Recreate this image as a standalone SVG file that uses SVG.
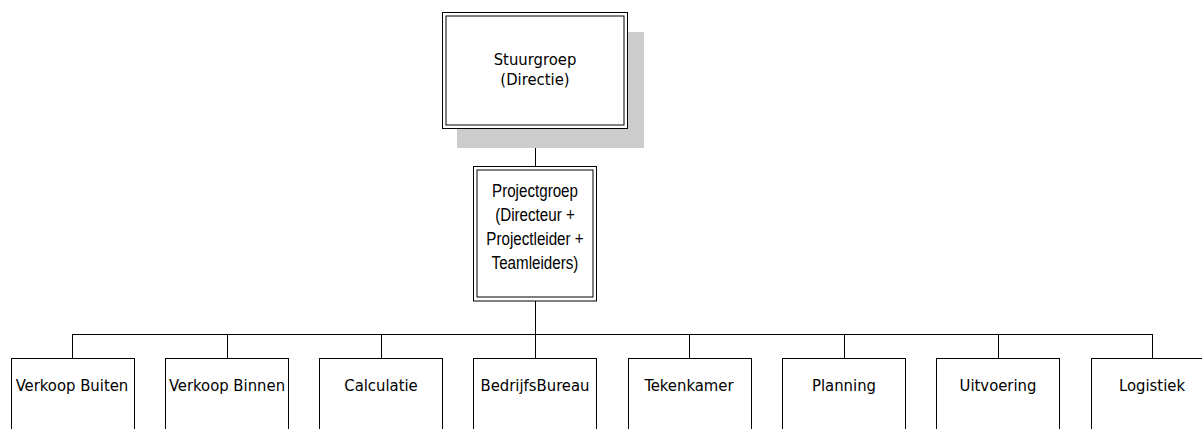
<svg xmlns="http://www.w3.org/2000/svg" width="1202" height="429" viewBox="0 0 1202 429">
<style>
.box{fill:#fff;stroke:#000;stroke-width:1}
.tx{font-family:"DejaVu Sans Condensed","DejaVu Sans",sans-serif;font-size:16.5px;fill:#000;text-anchor:middle}
.tn{font-family:"Liberation Sans",Arial,sans-serif;font-size:18.5px;fill:#000;text-anchor:middle}
.ln{fill:none;stroke:#000;stroke-width:1}
</style>
<rect width="1202" height="429" fill="#fff"/>
<g id="connectors">
<path class="ln" d="M535.5 128 V166"/>
<path class="ln" d="M535.5 301 V334" stroke-width="2.5"/>
<path class="ln" d="M72.5 334.5 H1152.5" stroke-width="1.3"/>
<path class="ln" d="M72.5 334 V358 M227.5 334 V358 M381.5 334 V358 M535.5 334 V358 M689.5 334 V358 M844.5 334 V358 M998.5 334 V358 M1152.5 334 V358"/>
</g>
<g id="stuurgroep">
<rect x="457" y="32" width="187" height="116" fill="#cccccc"/>
<rect class="box" x="442.5" y="12.5" width="185" height="116"/>
<rect class="box" x="446" y="16" width="178" height="109"/>
<text class="tx" x="535" y="65">Stuurgroep</text>
<text class="tx" x="535" y="85">(Directie)</text>
</g>
<g id="projectgroep">
<rect class="box" x="473.5" y="166.5" width="123" height="134.5"/>
<rect class="box" x="477" y="170" width="116" height="127"/>
<g transform="translate(535 0) scale(0.82 1)">
<text class="tn" x="0" y="197">Projectgroep</text>
<text class="tn" x="0" y="221">(Directeur +</text>
<text class="tn" x="0" y="245">Projectleider +</text>
<text class="tn" x="0" y="269">Teamleiders)</text>
</g>
</g>
<g id="verkoop-buiten"><rect class="box" x="11.5" y="358.5" width="123" height="90"/><text class="tx" x="72" y="391">Verkoop Buiten</text></g>
<g id="verkoop-binnen"><rect class="box" x="165.5" y="358.5" width="123" height="90"/><text class="tx" x="227" y="391">Verkoop Binnen</text></g>
<g id="calculatie"><rect class="box" x="319.5" y="358.5" width="123" height="90"/><text class="tx" x="381" y="391">Calculatie</text></g>
<g id="bedrijfsbureau"><rect class="box" x="473.5" y="358.5" width="123" height="90"/><text class="tx" x="535" y="391">BedrijfsBureau</text></g>
<g id="tekenkamer"><rect class="box" x="628.5" y="358.5" width="123" height="90"/><text class="tx" x="689" y="391">Tekenkamer</text></g>
<g id="planning"><rect class="box" x="782.5" y="358.5" width="123" height="90"/><text class="tx" x="844" y="391">Planning</text></g>
<g id="uitvoering"><rect class="box" x="936.5" y="358.5" width="123" height="90"/><text class="tx" x="998" y="391">Uitvoering</text></g>
<g id="logistiek"><rect class="box" x="1091.5" y="358.5" width="123" height="90"/><text class="tx" x="1152" y="391">Logistiek</text></g>
</svg>
